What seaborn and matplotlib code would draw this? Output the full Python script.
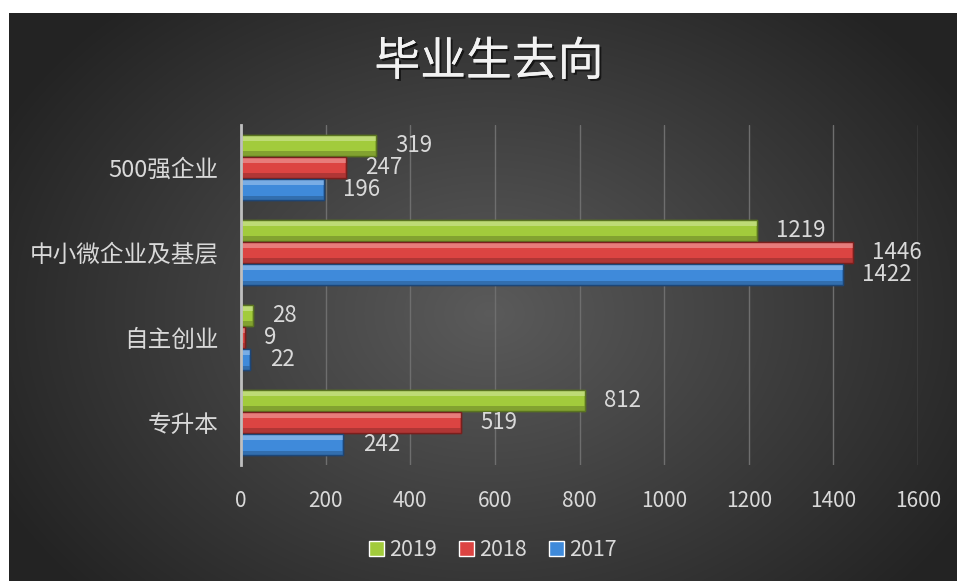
import numpy as np
import pandas as pd
import matplotlib
matplotlib.use("Agg")
import matplotlib.pyplot as plt
import matplotlib.patheffects as pe
from matplotlib.patches import Rectangle
from matplotlib.colors import to_rgb
import seaborn as sns

# -----------------
# data
# -----------------
categories = ["500强企业", "中小微企业及基层", "自主创业", "专升本"]
years = ["2019", "2018", "2017"]
v2019 = [319, 1219, 28, 812]
v2018 = [247, 1446, 9, 519]
v2017 = [196, 1422, 22, 242]
xticks = [0, 200, 400, 600, 800, 1000, 1200, 1400, 1600]

colors = {"2019": "#a2cb3c", "2018": "#dc4442", "2017": "#3f8ada"}
edges = {"2019": "#5a7420", "2018": "#7a1f1d", "2017": "#1d4677"}
text_col = "#d9d9d9"

df = pd.DataFrame({
    "category": categories * 3,
    "year": ["2019"] * 4 + ["2018"] * 4 + ["2017"] * 4,
    "value": v2019 + v2018 + v2017,
})

sns.set_theme(style="dark")
plt.rcParams["font.family"] = ["Noto Sans CJK SC", "DejaVu Sans"]

fig = plt.figure(figsize=(9.57, 5.81), dpi=100, facecolor="white")

# dark radial background panel (white strip on top / left like the screenshot)
bg = fig.add_axes([9 / 957, 0, 1 - 9 / 957, 1 - 13 / 581])
yy, xx = np.mgrid[0:568, 0:948]
r = np.sqrt(((xx - 480) / 560.0) ** 2 + ((yy - 300) / 420.0) ** 2)
shade = np.clip(0.355 - 0.22 * r, 0.14, 0.36)
bg.imshow(np.dstack([shade, shade, shade]), aspect="auto", interpolation="bilinear")
bg.set_axis_off()

ax = fig.add_axes([241 / 957, 116 / 581, (918 - 241) / 957, (465 - 125) / 581])
ax.patch.set_alpha(0)

sns.barplot(data=df, x="value", y="category", hue="year", hue_order=years,
            order=categories, orient="h", palette=colors, saturation=1,
            width=0.78, gap=0.04, ax=ax, legend=True)


def lighten(c, f):
    r_, g_, b_ = to_rgb(c)
    return (r_ + (1 - r_) * f, g_ + (1 - g_) * f, b_ + (1 - b_) * f)


def darken(c, f):
    r_, g_, b_ = to_rgb(c)
    return (r_ * (1 - f), g_ * (1 - f), b_ * (1 - f))


# bevel look: light strip on top, dark strip at bottom of each bar
for cont, yr in zip(ax.containers, years):
    for bar in cont:
        bar.set_edgecolor(edges[yr])
        bar.set_linewidth(1.0)
        x0, y0 = bar.get_x(), bar.get_y()
        w, h = bar.get_width(), bar.get_height()
        ax.add_patch(Rectangle((x0, y0), w, h * 0.28, facecolor=lighten(colors[yr], 0.3),
                               edgecolor="none", zorder=bar.get_zorder() + 0.1))
        ax.add_patch(Rectangle((x0, y0 + h * 0.78), w, h * 0.22, facecolor=darken(colors[yr], 0.2),
                               edgecolor="none", zorder=bar.get_zorder() + 0.1))
        ax.add_patch(Rectangle((x0, y0), w, h, facecolor="none", edgecolor=edges[yr],
                               linewidth=1.0, zorder=bar.get_zorder() + 0.2))
    ax.bar_label(cont, padding=14, color=text_col, fontsize=16)

ax.set_xlim(0, 1600)
ax.set_xticks(xticks)
ax.set_xticklabels([str(t) for t in xticks])
ax.set_ylim(3.5, -0.5)
ax.set_xlabel("")
ax.set_ylabel("")
ax.tick_params(axis="x", colors=text_col, labelsize=15, length=0, pad=18)
ax.tick_params(axis="y", colors=text_col, labelsize=17, length=0, pad=16)
ax.grid(axis="x", color="#6e6e6e", linewidth=1.0)
ax.grid(axis="y", visible=False)
ax.set_axisbelow(True)
for s in ["top", "right", "bottom"]:
    ax.spines[s].set_visible(False)
ax.spines["left"].set_color("#bfbfbf")
ax.spines["left"].set_linewidth(2)

handles, labels = ax.get_legend_handles_labels()
ax.legend_.remove()
fig.legend(handles, labels, loc="center", bbox_to_anchor=(0.515, 1 - 550 / 581),
           ncol=3, frameon=False, handlelength=0.7, handleheight=0.7,
           handletextpad=0.25, columnspacing=1.0, labelcolor=text_col,
           prop={"size": 15.5})

fig.text(0.511, 1 - 62 / 581, "毕业生去向", ha="center", va="center",
         color="#f2f2f2", fontsize=33,
         path_effects=[pe.withSimplePatchShadow(offset=(1.5, -1.5), shadow_rgbFace="black", alpha=0.6),
                       pe.Normal()])

fig.savefig("out.png", dpi=100, facecolor="white")
